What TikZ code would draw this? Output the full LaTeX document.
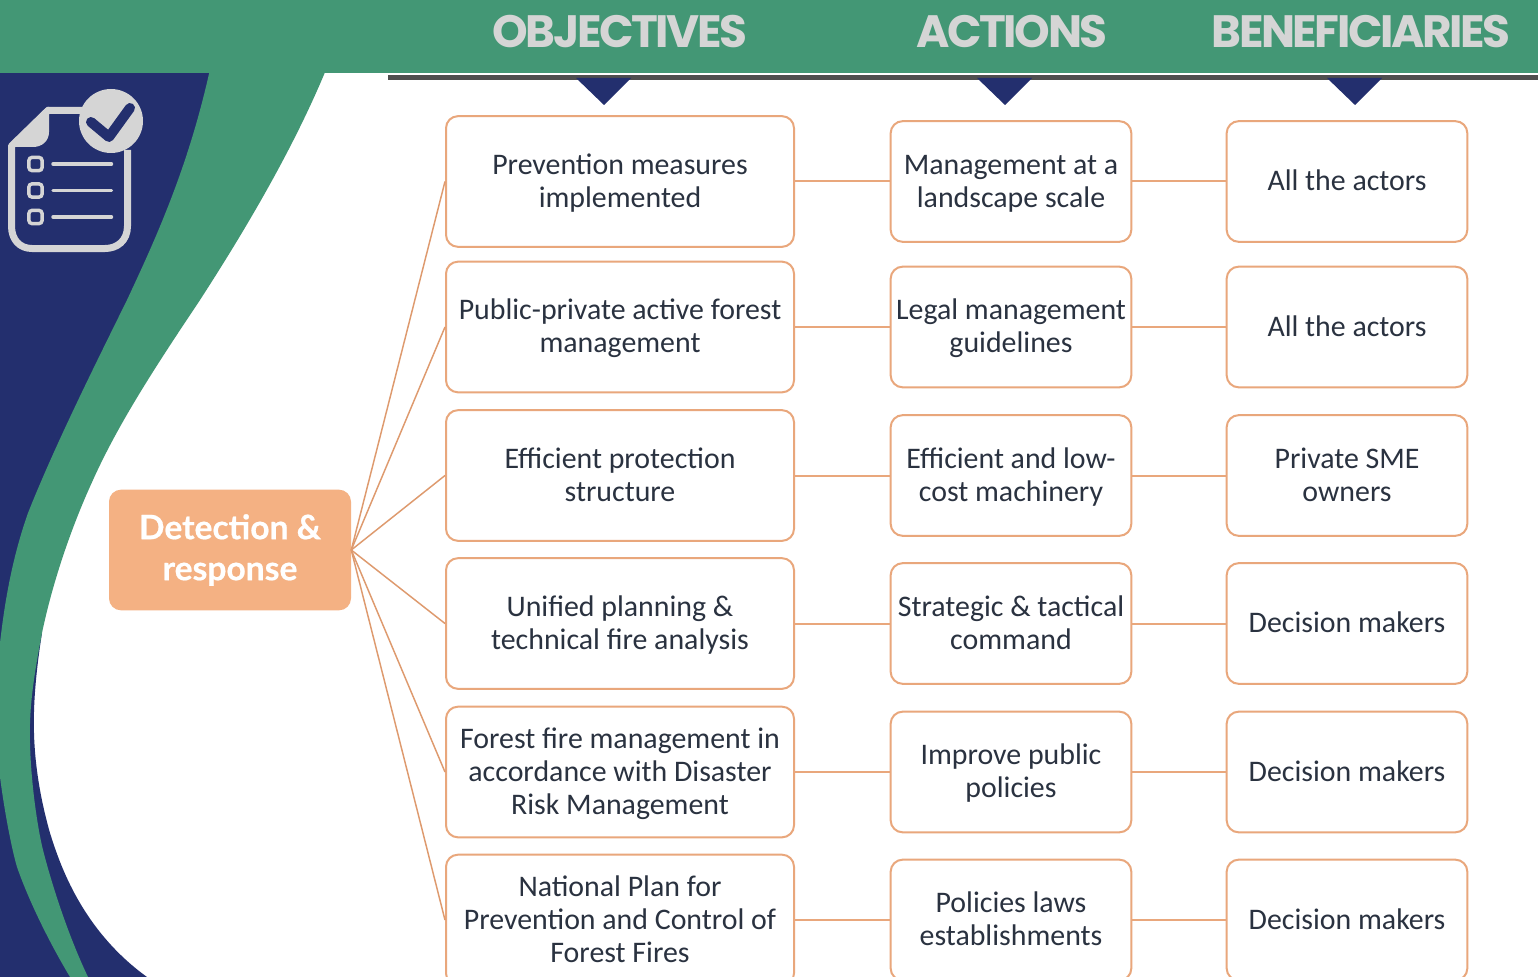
\documentclass[tikz,border=0pt]{standalone}
\usepackage{fontspec}
\setmainfont{Carlito}
\newfontfamily\headfont{Poppins}[LetterSpace=-5.3]
\newfontfamily\rootfont{Lato}[BoldFeatures={FakeBold=0.6}]
\newcommand{\ts}{\rule[-5pt]{0pt}{23.8pt}}
\definecolor{hgreen}{HTML}{439775}
\definecolor{navy}{HTML}{232F6E}
\definecolor{orangeline}{HTML}{E9A77C}
\definecolor{rootline}{HTML}{DE9A6E}
\definecolor{orangefill}{HTML}{F4B183}
\definecolor{lgray}{HTML}{D5D5D5}
\definecolor{txt}{HTML}{2A3240}
\definecolor{rulec}{HTML}{4F4F4F}
\tikzset{
  x=0.75pt,y=-0.75pt,
  box/.style={draw=orangeline,line width=1.5pt,rounded corners=9pt,fill=white,align=center,text=txt,font=\fontsize{22.4}{24.75}\selectfont,inner sep=0pt,anchor=center},
  obj/.style={box,minimum width=261pt,minimum height=98pt},
  act/.style={box,minimum width=180.5pt,minimum height=90.5pt},
  ben/.style={box,minimum width=180.5pt,minimum height=90.5pt},
  link/.style={draw=orangeline,line width=1.5pt},
  rootlink/.style={draw=rootline,line width=1.1pt},
  heading/.style={text=lgray,font=\headfont\bfseries\fontsize{34}{34}\selectfont,inner sep=0pt,anchor=center},
  tri/.style={fill=navy,draw=none},
  iconline/.style={draw=lgray,line width=2.6pt,line cap=round},
  iconbox/.style={draw=lgray,line width=2.6pt,rounded corners=2.5pt}
}
\begin{document}
\begin{tikzpicture}
\useasboundingbox (0,0) rectangle (1538,977);
\fill[white] (0,0) rectangle (1538,977);
% navy background, upper part runs beneath the green band
\fill[navy] (0,70) -- (225,70) -- (150,300) -- (60,480) -- (20,620) -- (0,680) -- cycle;
% navy background, lower part
\fill[navy] (42,633) .. controls (37,665) and (33,700) .. (34,733) .. controls (35,770) and (42,805) .. (50,833) .. controls (60,865) and (82,930) .. (147,977) -- (0,977) -- (0,640) -- cycle;
% green band
\fill[hgreen] (212,60) .. controls (190,165) and (155,240) .. (127,300) .. controls (95,365) and (55,445) .. (28,513) .. controls (15,550) and (6,590) .. (0,643) -- (0,777) .. controls (5,815) and (12,850) .. (17,867) .. controls (25,890) and (42,930) .. (70,977) -- (88,977) .. controls (68,935) and (52,885) .. (43,850) .. controls (38,830) and (31,785) .. (30,743) .. controls (29,710) and (33,680) .. (42,633) .. controls (52,585) and (70,530) .. (93,480) .. controls (120,420) and (160,360) .. (200,300) .. controls (255,215) and (300,135) .. (330,60) -- cycle;
% header
\fill[hgreen] (0,0) rectangle (1538,73);
\node[heading] (hobj) at (620,32) {OBJECTIVES};
\node[heading] (hact) at (1012,32) {ACTIONS};
\node[heading] (hben) at (1361,32) {BENEFICIARIES};
\fill[rulec] (388,75.5) rectangle (1538,80);
\fill[tri] (576,78) -- (631,78) -- (604,105) -- cycle;
\fill[tri] (977,78) -- (1032,78) -- (1005,105) -- cycle;
\fill[tri] (1327,78) -- (1382,78) -- (1355,105) -- cycle;
% icon
\draw[draw=lgray,line width=5.25pt,line join=round] (127.5,150) -- (127.5,226) .. controls (127.5,241) and (117,248.5) .. (105,248.5) -- (32,248.5) .. controls (20,248.5) and (11.5,240) .. (11.5,226) -- (11.5,146) -- (48,110.5) -- (85,110.5);
\fill[lgray] (8,146) -- (47,107) -- (49,107) -- (49,132) .. controls (49,141) and (42,147) .. (33,147) -- (8,147) -- cycle;
\fill[lgray] (111,121) circle (32);
\draw[draw=navy,line width=7.5pt,line cap=round,line join=round] (91,122) -- (109,137) -- (130,108);
\node[iconbox,minimum size=10pt,inner sep=0pt] (c1) at (35.5,164) {};
\node[iconbox,minimum size=10pt,inner sep=0pt] (c2) at (35.5,190.5) {};
\node[iconbox,minimum size=10pt,inner sep=0pt] (c3) at (35.5,217) {};
\draw[iconline] (53,164) -- (111.5,164);
\draw[iconline] (53,190.5) -- (111.5,190.5);
\draw[iconline] (53,217) -- (111.5,217);
% root
\node[fill=orangefill,rounded corners=9pt,minimum width=181.5pt,minimum height=90.5pt,inner sep=0pt,align=center,text=white,font=\rootfont\bfseries\fontsize{25.2}{30.75}\selectfont] (root) at (230,550) {Detection \&\\response};
% boxes
\node[obj] (o1) at (620,181.5) {\ts Prevention measures\\implemented\ts};
\node[obj] (o2) at (620,327) {\ts Public-private active forest\\management\ts};
\node[obj] (o3) at (620,475.5) {\ts Efficient protection\\structure\ts};
\node[obj] (o4) at (620,623.5) {\ts Unified planning \&\\technical fire analysis\ts};
\node[obj] (o5) at (620,772) {\ts Forest fire management in\\accordance with Disaster\\Risk Management\ts};
\node[obj] (o6) at (620,920) {\ts National Plan for\\Prevention and Control of\\Forest Fires\ts};
\node[act] (a1) at (1011,181.5) {\ts Management at a\\landscape scale\ts};
\node[act] (a2) at (1011,327) {\ts Legal management\\guidelines\ts};
\node[act] (a3) at (1011,475.5) {\ts Efficient and low-\\cost machinery\ts};
\node[act] (a4) at (1011,623.5) {\ts Strategic \& tactical\\command\ts};
\node[act] (a5) at (1011,772) {\ts Improve public\\policies\ts};
\node[act] (a6) at (1011,920) {\ts Policies laws\\establishments\ts};
\node[ben] (b1) at (1347,181.5) {\ts All the actors\ts};
\node[ben] (b2) at (1347,327) {\ts All the actors\ts};
\node[ben] (b3) at (1347,475.5) {\ts Private SME\\owners\ts};
\node[ben] (b4) at (1347,623.5) {\ts Decision makers\ts};
\node[ben] (b5) at (1347,772) {\ts Decision makers\ts};
\node[ben] (b6) at (1347,920) {\ts Decision makers\ts};
% connectors
\foreach \i in {1,...,6}{
  \draw[rootlink] (root.east) -- (o\i.west);
  \draw[link] (o\i.east) -- (a\i.west);
  \draw[link] (a\i.east) -- (b\i.west);
}
\end{tikzpicture}
\end{document}
